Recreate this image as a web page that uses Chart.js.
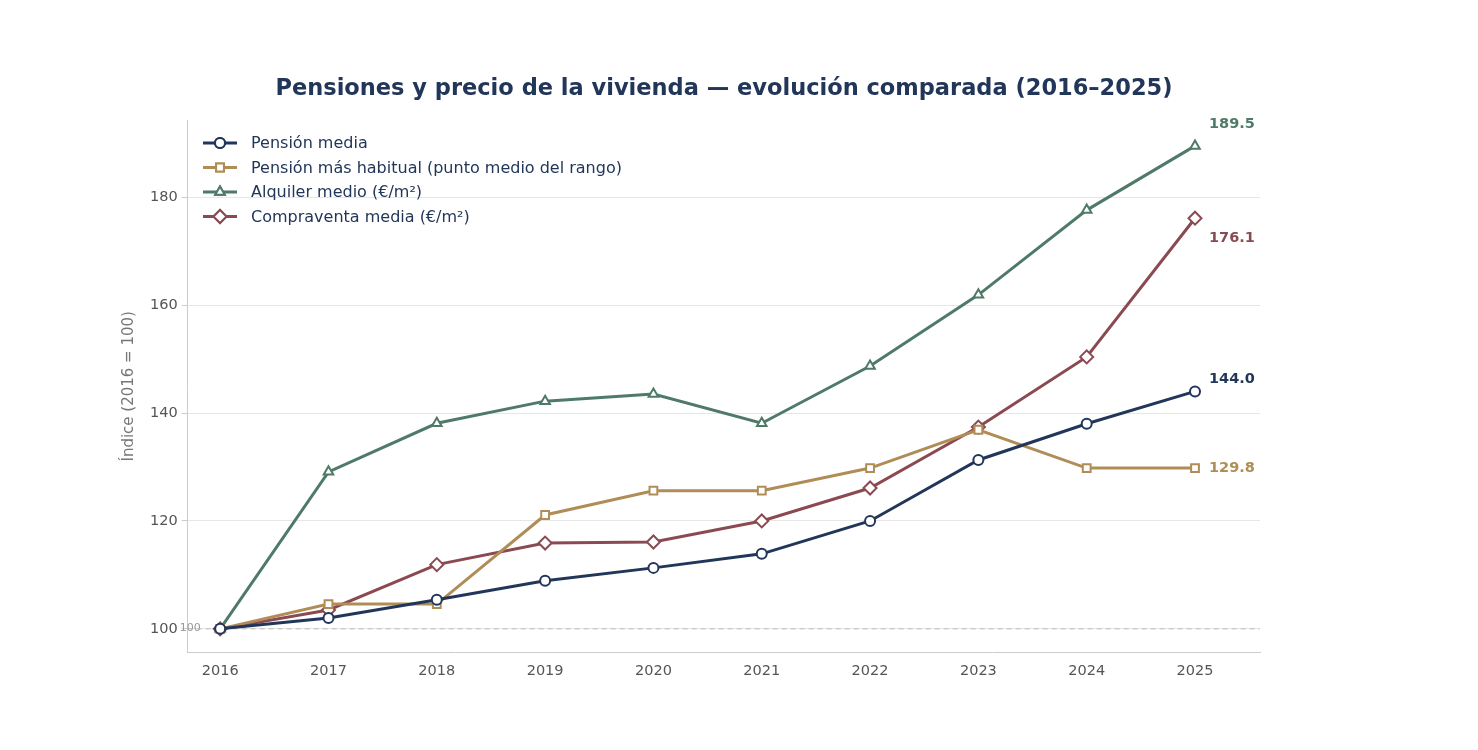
<!DOCTYPE html>
<html><head><meta charset="utf-8">
<script src="https://cdn.jsdelivr.net/npm/chart.js@4"></script>
<style>html,body{margin:0;background:#fff}#w{width:1478px;height:750px}</style>
</head><body><div id="w"><canvas id="c"></canvas></div>
<script>
const years=[2016,2017,2018,2019,2020,2021,2022,2023,2024,2025];
const pensionMedia=[100,102.0,105.4,108.9,111.3,113.9,120.0,131.3,138.0,144.0];
const pensionHabitual=[100,104.6,104.6,121.1,125.6,125.6,129.8,136.9,129.8,129.8];
const alquiler=[100,129.1,138.1,142.2,143.5,138.1,148.7,161.9,177.6,189.5];
const compraventa=[100,103.5,111.9,115.9,116.1,120.0,126.1,137.4,150.4,176.1];
const yTicks=[100,120,140,160,180];
const F='"DejaVu Sans", sans-serif';
const series=[
 {label:'Pensión media',data:pensionMedia,color:'#22365a',style:'circle',r:5},
 {label:'Pensión más habitual (punto medio del rango)',data:pensionHabitual,color:'#b08d57',style:'rect',r:5.5},
 {label:'Alquiler medio (€/m²)',data:alquiler,color:'#4f7a68',style:'triangle',r:5.5},
 {label:'Compraventa media (€/m²)',data:compraventa,color:'#8b4a52',style:'rectRot',r:6.5}
];
const extra={id:'extra',
 beforeDatasetsDraw(ch){const {ctx,chartArea:a,scales:{y}}=ch;const py=y.getPixelForValue(100);
  ctx.save();ctx.strokeStyle='#bbb';ctx.setLineDash([5,4]);ctx.lineWidth=1;ctx.beginPath();ctx.moveTo(a.left,py);ctx.lineTo(a.right,py);ctx.stroke();
  ctx.setLineDash([]);ctx.fillStyle='#999';ctx.font='11px '+F;ctx.textAlign='left';ctx.textBaseline='middle';ctx.fillText('100',a.left-8,py-1);ctx.restore();},
 afterDraw(ch){const {ctx,scales:{x,y}}=ch;ctx.save();
  ctx.fillStyle='#22365a';ctx.font='bold 22.5px '+F;ctx.textAlign='center';ctx.textBaseline='middle';ctx.fillText('Pensiones y precio de la vivienda — evolución comparada (2016–2025)',724,89);
  const offs=[-12,0,-22,20];
  series.forEach((s,i)=>{const v=s.data[s.data.length-1];ctx.fillStyle=s.color;ctx.font='bold 14.5px '+F;ctx.textAlign='left';
   ctx.fillText(v.toFixed(1),x.getPixelForValue(2025)+14,y.getPixelForValue(v)+offs[i]);});
  series.forEach((s,i)=>{const ly=143+i*24.5,lx=203;ctx.strokeStyle=s.color;ctx.lineWidth=3;ctx.beginPath();ctx.moveTo(lx,ly);ctx.lineTo(lx+34,ly);ctx.stroke();
   ctx.lineWidth=2;ctx.fillStyle='#fff';Chart.helpers.drawPoint(ctx,{pointStyle:s.style,radius:s.r,borderWidth:2},lx+17,ly);ctx.fill();ctx.stroke();
   ctx.fillStyle='#22365a';ctx.font='16px '+F;ctx.textAlign='left';ctx.fillText(s.label,lx+48,ly+1);});
  ctx.restore();}};
new Chart(document.getElementById('c'),{type:'line',
 data:{datasets:series.map(s=>({label:s.label,data:s.data.map((v,i)=>({x:years[i],y:v})),borderColor:s.color,backgroundColor:'#fff',borderWidth:3,
  pointStyle:s.style,pointRadius:s.r,pointBorderWidth:2,pointBackgroundColor:'#fff',pointBorderColor:s.color,tension:0}))},
 plugins:[extra],
 options:{responsive:true,maintainAspectRatio:false,animation:false,
  layout:{padding:{left:112,right:218,top:120,bottom:66}},
  plugins:{legend:{display:false},tooltip:{enabled:false}},
  scales:{
   x:{type:'linear',min:2015.7,max:2025.6,afterBuildTicks(s){s.ticks=years.map(v=>({value:v}));},
    grid:{display:false,drawTicks:true,tickLength:6,tickColor:'#ccc'},border:{color:'#ccc'},
    ticks:{color:'#555',font:{family:F,size:14.5},callback:v=>String(v),padding:4}},
   y:{min:95.6,max:194.3,afterBuildTicks(s){s.ticks=yTicks.map(v=>({value:v}));},
    grid:{color:'#e6e6e6',tickColor:'#ccc',tickLength:6},border:{color:'#ccc'},
    ticks:{color:'#555',font:{family:F,size:14.5},padding:4},
    title:{display:true,text:'Índice (2016 = 100)',color:'#777',font:{family:F,size:15},padding:8}}}}});
</script></body></html>
